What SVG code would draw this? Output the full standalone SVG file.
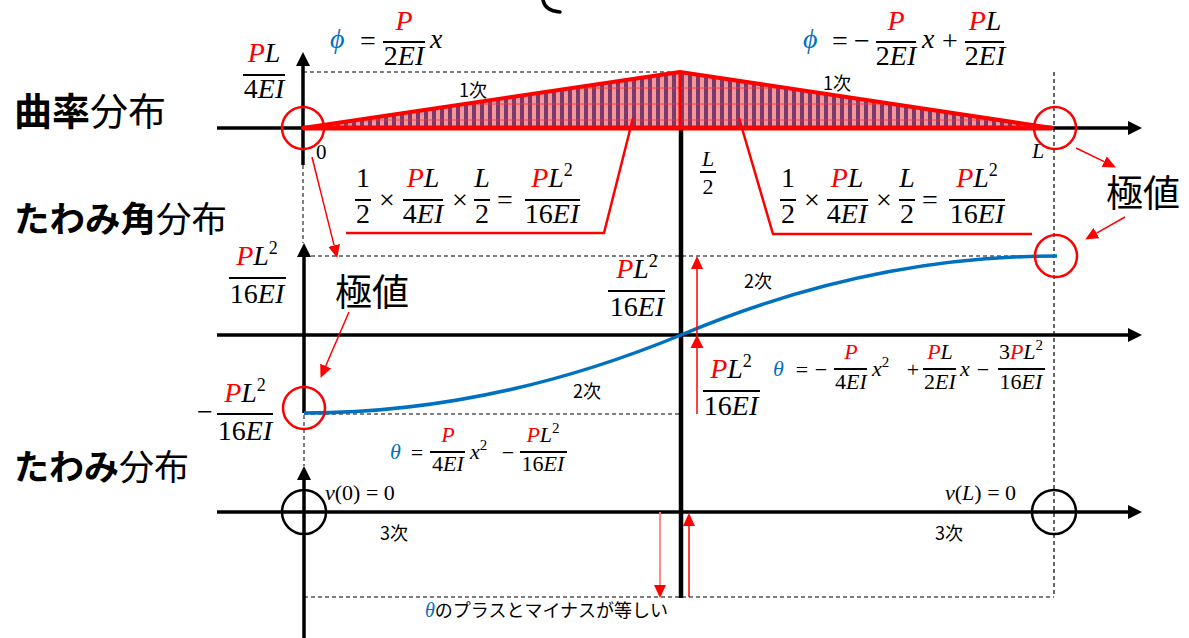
<svg xmlns="http://www.w3.org/2000/svg" width="1189" height="638" viewBox="0 0 1189 638">
<style>
.m{font-family:"Liberation Serif","DejaVu Serif",serif;font-style:italic;fill:#000;font-size:28px}
.s{font-size:22px}
.n{font-style:normal}
.r{fill:#ff0000}
.b{fill:#0070c0}
.j{font-family:"Noto Sans CJK JP","Noto Sans",sans-serif;fill:#000}
.t{font-size:37px}
.k{font-size:18px}
.bar{stroke:#000;stroke-width:2}
.ax{stroke:#000;stroke-width:3.5;fill:none}
.dash{stroke:#000;stroke-width:1.2;stroke-dasharray:4 3;fill:none}
.gdash{stroke:#555;stroke-width:1.5;stroke-dasharray:4 3;fill:none}
.rc{stroke:#ff0000;stroke-width:2.5;fill:none}
.kc{stroke:#000;stroke-width:2.5;fill:none}
.ra{stroke:#ff0000;stroke-width:1.5;fill:none}
.box{stroke:#ff0000;stroke-width:2.5;fill:none}
</style>
<defs>
<pattern id="hatch" patternUnits="userSpaceOnUse" width="8" height="16">
<rect width="8" height="16" fill="#f7959d"/>
<rect x="0" width="4" height="16" fill="#7a3b6b"/>
<line x1="0" y1="8" x2="8" y2="8" stroke="#ff3030" stroke-width="0.8"/>
</pattern>
<marker id="ah" viewBox="0 0 14 14" refX="0" refY="7" markerWidth="14" markerHeight="14" markerUnits="userSpaceOnUse" orient="auto"><path d="M0,0 L14,7 L0,14 z" fill="#000"/></marker>
<marker id="rh" viewBox="0 0 13 12" refX="0" refY="6" markerWidth="13" markerHeight="12" markerUnits="userSpaceOnUse" orient="auto"><path d="M0,0 L13,6 L0,12 z" fill="#ff0000"/></marker>
</defs>
<rect width="1189" height="638" fill="#fff"/>

<g id="top-arc"><path d="M543,0 Q545,11 560,12" stroke="#000" stroke-width="3.5" fill="none" stroke-linecap="round"/></g>

<g id="guides">
<line class="dash" x1="303" y1="72" x2="680" y2="72"/>
<line class="dash" x1="1054" y1="72" x2="1054" y2="597"/>
<line class="dash" x1="304" y1="256" x2="1054" y2="256"/>
<line class="dash" x1="304" y1="414" x2="681" y2="414"/>
<line class="dash" x1="304" y1="597" x2="1054" y2="597"/>
<line class="gdash" x1="303" y1="165" x2="303" y2="243"/>
<line class="gdash" x1="304" y1="415" x2="304" y2="466"/>
</g>

<g id="axes">
<line class="ax" x1="217" y1="128" x2="1128" y2="128" marker-end="url(#ah)"/>
<line class="ax" x1="303" y1="165" x2="303" y2="66" marker-end="url(#ah)"/>
<line class="ax" x1="217" y1="335" x2="1128" y2="335" marker-end="url(#ah)"/>
<line class="ax" x1="304" y1="413" x2="304" y2="257" marker-end="url(#ah)"/>
<line class="ax" x1="217" y1="512" x2="1128" y2="512" marker-end="url(#ah)"/>
<line class="ax" x1="304" y1="638" x2="304" y2="480" marker-end="url(#ah)"/>
<line x1="681" y1="128" x2="681" y2="598" stroke="#000" stroke-width="4.5"/>
</g>

<g id="curvature">
<polygon points="303,128 680,72 1052,128" fill="url(#hatch)" stroke="#ff0000" stroke-width="4" stroke-linejoin="round"/>
<line x1="303" y1="128" x2="1052" y2="128" stroke="#ff0000" stroke-width="5"/>
<line x1="680" y1="72" x2="680" y2="128" stroke="#ff0000" stroke-width="3"/>
</g>

<g id="slope-curve"><path d="M304,413 Q492,413 681,335 Q868,256 1057,256" stroke="#0070c0" stroke-width="3.5" fill="none"/></g>

<g id="circles">
<circle class="rc" cx="303" cy="128" r="21"/>
<circle class="rc" cx="1055" cy="128" r="21"/>
<circle class="rc" cx="1056" cy="256" r="21"/>
<circle class="rc" cx="304" cy="408" r="21"/>
<circle class="kc" cx="304" cy="512" r="22"/>
<circle class="kc" cx="1054" cy="512" r="22"/>
</g>

<g id="titles">
<text id="t1" class="j" x="14" y="125" style="font-size:38px"><tspan font-weight="700">曲率</tspan><tspan font-weight="400">分布</tspan></text>
<text id="t2" class="j" x="14" y="232" style="font-size:35.5px"><tspan font-weight="700">たわみ角</tspan><tspan font-weight="400">分布</tspan></text>
<text id="t3" class="j" x="14" y="480" style="font-size:35px"><tspan font-weight="700">たわみ</tspan><tspan font-weight="400">分布</tspan></text>
</g>

<g id="label-pl-4ei">
<text class="m" x="264" y="62" text-anchor="middle"><tspan class="r">P</tspan>L</text>
<line class="bar" x1="243" y1="75" x2="285" y2="75"/>
<text class="m" x="264" y="98" text-anchor="middle"><tspan class="n">4</tspan>EI</text>
</g>

<g id="phi-left">
<text class="m b" x="330" y="48">ϕ</text>
<text class="m n" x="368" y="50" text-anchor="middle">=</text>
<text class="m r" x="404" y="30" text-anchor="middle">P</text>
<line class="bar" x1="383" y1="42" x2="425" y2="42"/>
<text class="m" x="404" y="65" text-anchor="middle"><tspan class="n">2</tspan>EI</text>
<text class="m" x="430" y="48">x</text>
</g>

<g id="phi-right">
<text class="m b" x="803" y="48">ϕ</text>
<text class="m n" x="840" y="50" text-anchor="middle">=</text>
<text class="m n" x="862" y="50" text-anchor="middle">−</text>
<text class="m r" x="896" y="30" text-anchor="middle">P</text>
<line class="bar" x1="876" y1="42" x2="916" y2="42"/>
<text class="m" x="896" y="65" text-anchor="middle"><tspan class="n">2</tspan>EI</text>
<text class="m" x="922" y="48">x</text>
<text class="m n" x="950" y="50" text-anchor="middle">+</text>
<text class="m" x="985" y="30" text-anchor="middle"><tspan class="r">P</tspan>L</text>
<line class="bar" x1="965" y1="42" x2="1004" y2="42"/>
<text class="m" x="985" y="65" text-anchor="middle"><tspan class="n">2</tspan>EI</text>
</g>

<g id="order-labels">
<text class="j k" x="459" y="97">1次</text>
<text class="j k" x="823" y="90">1次</text>
<text class="j k" x="744" y="288">2次</text>
<text class="j k" x="573" y="398">2次</text>
<text class="j k" x="380" y="540">3次</text>
<text class="j k" x="935" y="540">3次</text>
</g>

<g id="axis-marks">
<text class="m n" x="316" y="159" style="font-size:21px">0</text>
<text class="m" x="1032" y="158" style="font-size:22px">L</text>
<text class="m" x="708" y="166" style="font-size:22px" text-anchor="middle">L</text>
<line class="bar" x1="700" y1="172" x2="716" y2="172" stroke-width="1.5"/>
<text class="m n" x="708" y="194" style="font-size:22px" text-anchor="middle">2</text>
</g>

<g id="area-left">
<text class="m n" x="363" y="187" text-anchor="middle">1</text>
<line class="bar" x1="355" y1="200" x2="371" y2="200"/>
<text class="m n" x="363" y="223" text-anchor="middle">2</text>
<text class="m n" x="387" y="209" text-anchor="middle">×</text>
<text class="m" x="423" y="187" text-anchor="middle"><tspan class="r">P</tspan>L</text>
<line class="bar" x1="403" y1="200" x2="443" y2="200"/>
<text class="m" x="423" y="223" text-anchor="middle"><tspan class="n">4</tspan>EI</text>
<text class="m n" x="460" y="209" text-anchor="middle">×</text>
<text class="m" x="482" y="187" text-anchor="middle">L</text>
<line class="bar" x1="474" y1="200" x2="490" y2="200"/>
<text class="m n" x="482" y="223" text-anchor="middle">2</text>
<text class="m n" x="505" y="209" text-anchor="middle">=</text>
<text class="m" x="552" y="187" text-anchor="middle"><tspan class="r">P</tspan>L<tspan class="n" font-size="18" dy="-11">2</tspan></text>
<line class="bar" x1="525" y1="200" x2="580" y2="200"/>
<text class="m" x="552" y="223" text-anchor="middle"><tspan class="n">16</tspan>EI</text>
<polyline class="box" points="633,118 604,233 346,233"/>
</g>

<g id="area-right">
<text class="m n" x="788" y="187" text-anchor="middle">1</text>
<line class="bar" x1="780" y1="200" x2="796" y2="200"/>
<text class="m n" x="788" y="223" text-anchor="middle">2</text>
<text class="m n" x="812" y="209" text-anchor="middle">×</text>
<text class="m" x="847" y="187" text-anchor="middle"><tspan class="r">P</tspan>L</text>
<line class="bar" x1="827" y1="200" x2="868" y2="200"/>
<text class="m" x="847" y="223" text-anchor="middle"><tspan class="n">4</tspan>EI</text>
<text class="m n" x="884" y="209" text-anchor="middle">×</text>
<text class="m" x="907" y="187" text-anchor="middle">L</text>
<line class="bar" x1="899" y1="200" x2="915" y2="200"/>
<text class="m n" x="907" y="223" text-anchor="middle">2</text>
<text class="m n" x="930" y="209" text-anchor="middle">=</text>
<text class="m" x="977" y="187" text-anchor="middle"><tspan class="r">P</tspan>L<tspan class="n" font-size="18" dy="-11">2</tspan></text>
<line class="bar" x1="949" y1="200" x2="1005" y2="200"/>
<text class="m" x="977" y="223" text-anchor="middle"><tspan class="n">16</tspan>EI</text>
<polyline class="box" points="739,118 773,234 1032,234"/>
</g>

<g id="extreme-labels">
<text class="j t" x="1106" y="207">極値</text>
<text class="j t" x="335" y="306">極値</text>
</g>

<g id="slope-max-left">
<text class="m" x="257" y="265" text-anchor="middle"><tspan class="r">P</tspan>L<tspan class="n" font-size="18" dy="-11">2</tspan></text>
<line class="bar" x1="229" y1="278" x2="286" y2="278"/>
<text class="m" x="257" y="303" text-anchor="middle"><tspan class="n">16</tspan>EI</text>
</g>

<g id="slope-center">
<text class="m" x="637" y="278" text-anchor="middle"><tspan class="r">P</tspan>L<tspan class="n" font-size="18" dy="-11">2</tspan></text>
<line class="bar" x1="608" y1="291" x2="665" y2="291"/>
<text class="m" x="637" y="316" text-anchor="middle"><tspan class="n">16</tspan>EI</text>
</g>

<g id="slope-min-left">
<text class="m n" x="205" y="421" text-anchor="middle">−</text>
<text class="m" x="245" y="402" text-anchor="middle"><tspan class="r">P</tspan>L<tspan class="n" font-size="18" dy="-11">2</tspan></text>
<line class="bar" x1="217" y1="414" x2="273" y2="414"/>
<text class="m" x="245" y="440" text-anchor="middle"><tspan class="n">16</tspan>EI</text>
</g>

<g id="slope-right-value">
<text class="m" x="731" y="378" text-anchor="middle"><tspan class="r">P</tspan>L<tspan class="n" font-size="18" dy="-11">2</tspan></text>
<line class="bar" x1="703" y1="391" x2="760" y2="391"/>
<text class="m" x="731" y="415" text-anchor="middle"><tspan class="n">16</tspan>EI</text>
</g>

<g id="theta-right">
<text class="m s b" x="773" y="376">θ</text>
<text class="m s n" x="802" y="377" text-anchor="middle">=</text>
<text class="m s n" x="821" y="377" text-anchor="middle">−</text>
<text class="m s r" x="851" y="359" text-anchor="middle">P</text>
<line class="bar" x1="834" y1="369" x2="867" y2="369" stroke-width="1.6"/>
<text class="m s" x="851" y="389" text-anchor="middle"><tspan class="n">4</tspan>EI</text>
<text class="m s" x="872" y="376">x<tspan class="n" font-size="15" dy="-9">2</tspan></text>
<text class="m s n" x="913" y="377" text-anchor="middle">+</text>
<text class="m s" x="940" y="359" text-anchor="middle"><tspan class="r">P</tspan>L</text>
<line class="bar" x1="923" y1="369" x2="956" y2="369" stroke-width="1.6"/>
<text class="m s" x="940" y="389" text-anchor="middle"><tspan class="n">2</tspan>EI</text>
<text class="m s" x="960" y="376">x</text>
<text class="m s n" x="983" y="377" text-anchor="middle">−</text>
<text class="m s" x="1021" y="359" text-anchor="middle"><tspan class="n">3</tspan><tspan class="r">P</tspan>L<tspan class="n" font-size="15" dy="-9">2</tspan></text>
<line class="bar" x1="998" y1="369" x2="1045" y2="369" stroke-width="1.6"/>
<text class="m s" x="1021" y="389" text-anchor="middle"><tspan class="n">16</tspan>EI</text>
</g>

<g id="theta-left">
<text class="m s b" x="390" y="459">θ</text>
<text class="m s n" x="417" y="460" text-anchor="middle">=</text>
<text class="m s r" x="448" y="442" text-anchor="middle">P</text>
<line class="bar" x1="430" y1="452" x2="465" y2="452" stroke-width="1.6"/>
<text class="m s" x="448" y="471" text-anchor="middle"><tspan class="n">4</tspan>EI</text>
<text class="m s" x="470" y="459">x<tspan class="n" font-size="15" dy="-9">2</tspan></text>
<text class="m s n" x="508" y="460" text-anchor="middle">−</text>
<text class="m s" x="543" y="442" text-anchor="middle"><tspan class="r">P</tspan>L<tspan class="n" font-size="15" dy="-9">2</tspan></text>
<line class="bar" x1="520" y1="452" x2="567" y2="452" stroke-width="1.6"/>
<text class="m s" x="543" y="471" text-anchor="middle"><tspan class="n">16</tspan>EI</text>
</g>

<g id="boundary-labels">
<text class="m s" x="325" y="500">v<tspan class="n">(0) = 0</tspan></text>
<text class="m s" x="945" y="500">v<tspan class="n">(</tspan>L<tspan class="n">) = 0</tspan></text>
</g>

<g id="bottom-note">
<text x="425" y="617"><tspan class="m b" style="font-size:20px">θ</tspan><tspan class="j" style="font-size:18px">のプラスとマイナスが等しい</tspan></text>
</g>

<g id="connectors">
<line class="ra" x1="312" y1="157" x2="334.1" y2="245.4" marker-end="url(#rh)"/>
<line class="ra" x1="349" y1="312" x2="325.7" y2="366" marker-end="url(#rh)"/>
<line class="ra" x1="1076" y1="148" x2="1104.2" y2="161.7" marker-end="url(#rh)"/>
<line class="ra" x1="1125" y1="217" x2="1096.5" y2="233.1" marker-end="url(#rh)"/>
<line class="ra" x1="697" y1="414" x2="697" y2="269" marker-end="url(#rh)"/>
<polygon points="697,335 690.5,348 703.5,348" fill="#ff0000"/>
<line x1="660" y1="512" x2="660" y2="585" stroke="#ff8080" stroke-width="1.8" marker-end="url(#rh)"/>
<line class="ra" x1="689" y1="597" x2="689" y2="526" marker-end="url(#rh)"/>
</g>
</svg>
